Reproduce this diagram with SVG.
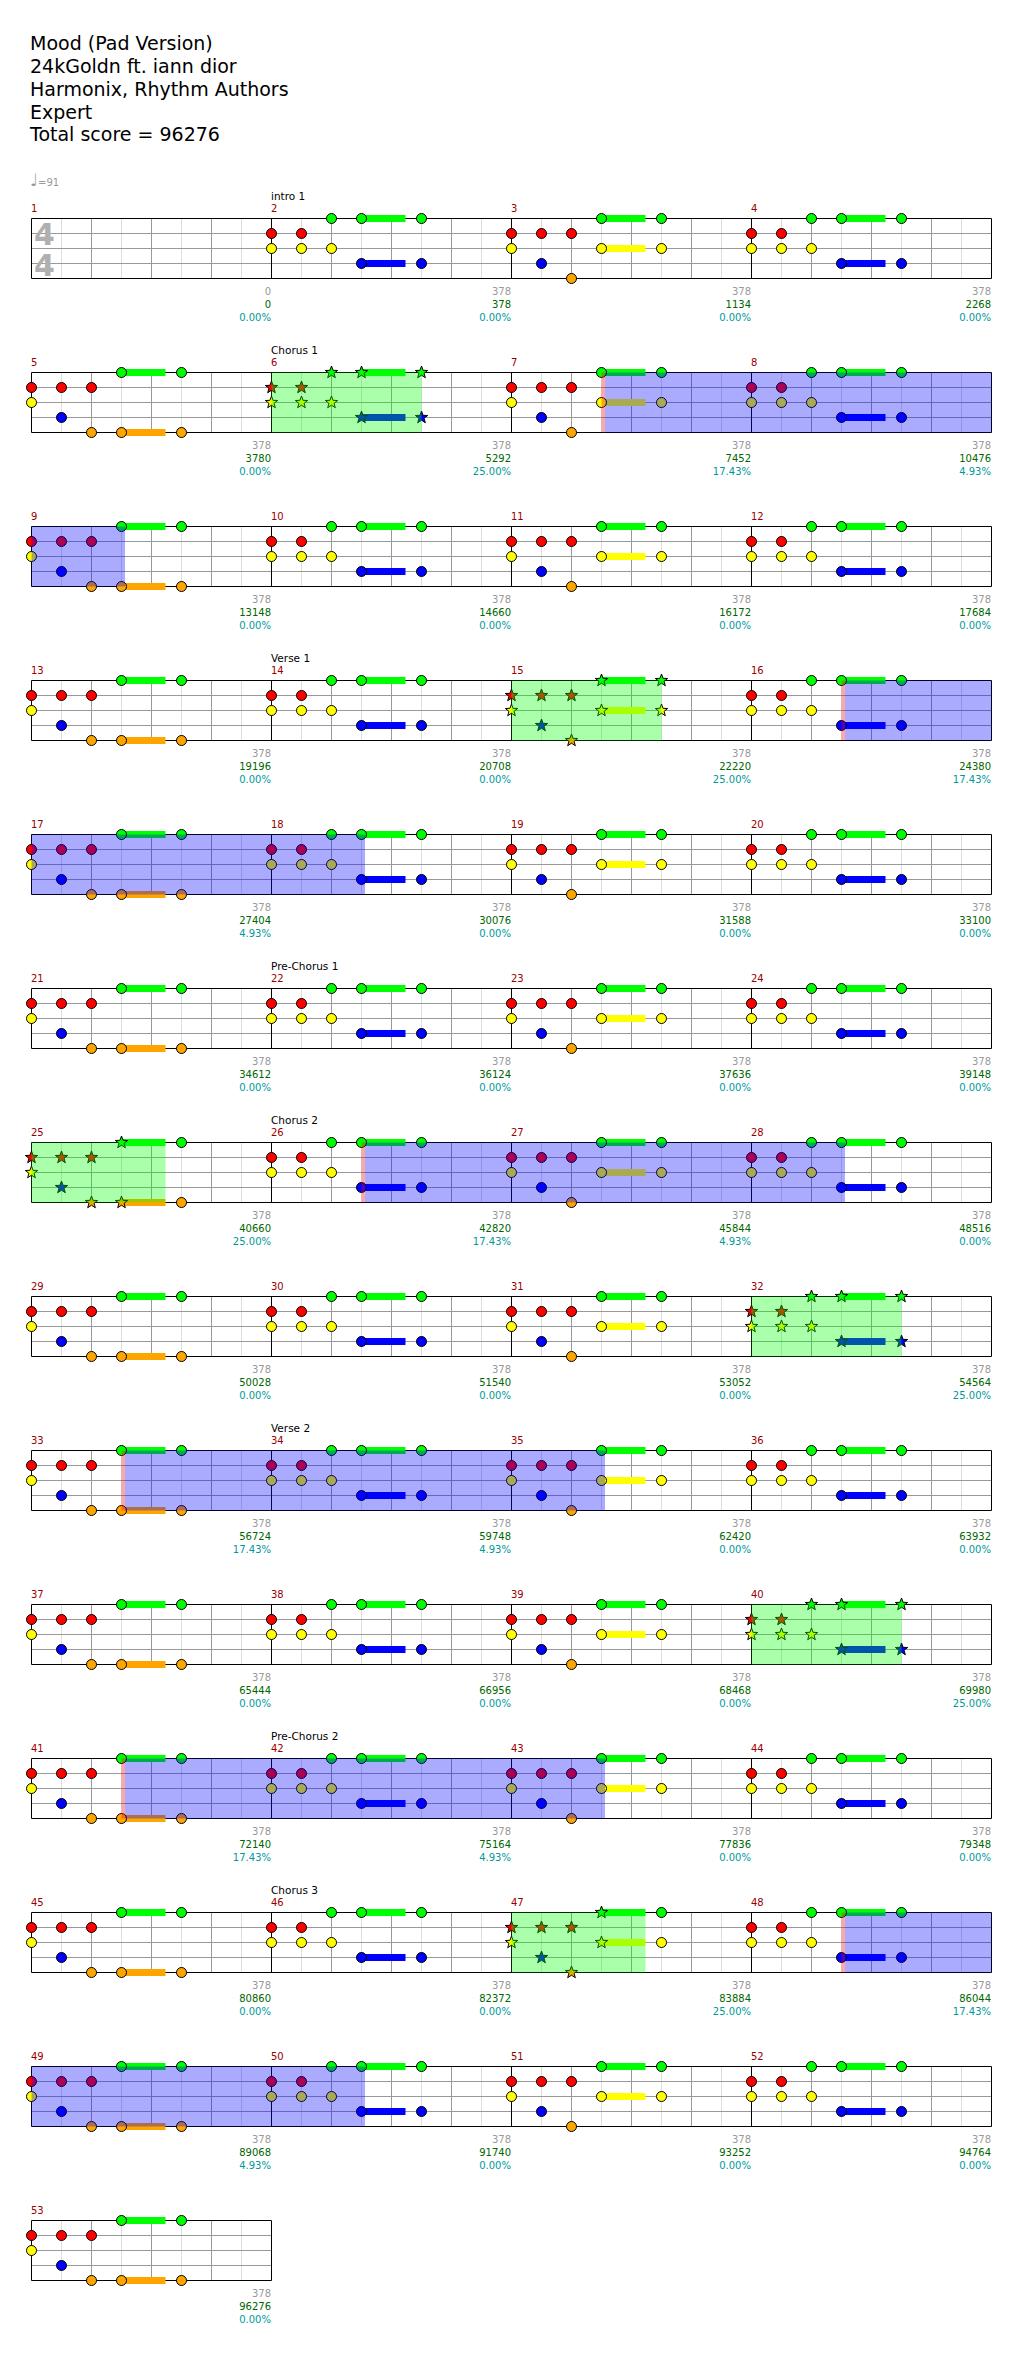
<svg xmlns="http://www.w3.org/2000/svg" xmlns:xlink="http://www.w3.org/1999/xlink" width="1024" height="2374" viewBox="0 0 1024 2374">
<style>
text{font-family:"DejaVu Sans",Verdana,sans-serif}
.t{font-size:19px;fill:#000}
.mn{font-size:10px;fill:#990000}
.sec{font-size:10.5px;fill:#000}
.l1{font-size:10px;fill:#999;text-anchor:end}
.l2{font-size:10px;fill:#006600;text-anchor:end}
.l3{font-size:10px;fill:#009999;text-anchor:end}
.ts{font-size:30px;font-weight:bold;fill:#b0b0b0;text-anchor:middle}
.lt{stroke:#dddddd;stroke-width:1;fill:none}
.dk{stroke:#999999;stroke-width:1;fill:none}
.bk{stroke:#000;stroke-width:1;fill:none}
.n{stroke:#000;stroke-width:1}
.G{fill:#00ff00}.R{fill:#ff0000}.Y{fill:#ffff00}.B{fill:#0000ff}.O{fill:#ffa500}
.ovg{fill:#00ff00;fill-opacity:0.333}
.ovb{fill:#0000ff;fill-opacity:0.333}
.act{fill:#ff0000;fill-opacity:0.35}
</style>
<defs>
<path id="st" d="M0,-6.5L1.59,-2.18L6.18,-2.01L2.57,0.83L3.82,5.26L0,2.7L-3.82,5.26L-2.57,0.83L-6.18,-2.01L-1.59,-2.18Z"/>
<g id="grid">
<path class="lt" d="M30,0V60M90,0V60M150,0V60M210,0V60"/>
<path class="dk" d="M0,15H240M0,30H240M0,45H240M60,0V60M120,0V60M180,0V60"/>
</g>
<path id="frame4" class="bk" d="M31.5,0H991.5M31.5,60H991.5M31.5,0V60M271.5,0V60M511.5,0V60M751.5,0V60M991.5,0V60"/>
<path id="frame1" class="bk" d="M31.5,0H271.5M31.5,60H271.5M31.5,0V60M271.5,0V60"/>
<g id="pA">
<rect class="G" x="90" y="-3.5" width="44" height="7"/>
<rect class="B" x="90" y="41.5" width="44" height="7"/>
<circle class="n R" cx="0" cy="15" r="5"/><circle class="n Y" cx="0" cy="30" r="5"/>
<circle class="n R" cx="30" cy="15" r="5"/><circle class="n Y" cx="30" cy="30" r="5"/>
<circle class="n G" cx="60" cy="0" r="5"/><circle class="n Y" cx="60" cy="30" r="5"/>
<circle class="n G" cx="90" cy="0" r="5"/><circle class="n B" cx="90" cy="45" r="5"/>
<circle class="n G" cx="150" cy="0" r="5"/><circle class="n B" cx="150" cy="45" r="5"/>
</g>
<g id="pB">
<rect class="G" x="90" y="-3.5" width="44" height="7"/>
<rect class="Y" x="90" y="26.5" width="44" height="7"/>
<circle class="n R" cx="0" cy="15" r="5"/><circle class="n Y" cx="0" cy="30" r="5"/>
<circle class="n R" cx="30" cy="15" r="5"/><circle class="n B" cx="30" cy="45" r="5"/>
<circle class="n R" cx="60" cy="15" r="5"/><circle class="n O" cx="60" cy="60" r="5"/>
<circle class="n G" cx="90" cy="0" r="5"/><circle class="n Y" cx="90" cy="30" r="5"/>
<circle class="n G" cx="150" cy="0" r="5"/><circle class="n Y" cx="150" cy="30" r="5"/>
</g>
<g id="pC">
<rect class="G" x="90" y="-3.5" width="44" height="7"/>
<rect class="O" x="90" y="56.5" width="44" height="7"/>
<circle class="n R" cx="0" cy="15" r="5"/><circle class="n Y" cx="0" cy="30" r="5"/>
<circle class="n R" cx="30" cy="15" r="5"/><circle class="n B" cx="30" cy="45" r="5"/>
<circle class="n R" cx="60" cy="15" r="5"/><circle class="n O" cx="60" cy="60" r="5"/>
<circle class="n G" cx="90" cy="0" r="5"/><circle class="n O" cx="90" cy="60" r="5"/>
<circle class="n G" cx="150" cy="0" r="5"/><circle class="n O" cx="150" cy="60" r="5"/>
</g>
<g id="pAs">
<rect class="G" x="90" y="-3.5" width="44" height="7"/>
<rect class="B" x="90" y="41.5" width="44" height="7"/>
<use xlink:href="#st" class="n R" x="0" y="15"/><use xlink:href="#st" class="n Y" x="0" y="30"/>
<use xlink:href="#st" class="n R" x="30" y="15"/><use xlink:href="#st" class="n Y" x="30" y="30"/>
<use xlink:href="#st" class="n G" x="60" y="0"/><use xlink:href="#st" class="n Y" x="60" y="30"/>
<use xlink:href="#st" class="n G" x="90" y="0"/><use xlink:href="#st" class="n B" x="90" y="45"/>
<use xlink:href="#st" class="n G" x="150" y="0"/><use xlink:href="#st" class="n B" x="150" y="45"/>
</g>
<g id="pBs">
<rect class="G" x="90" y="-3.5" width="44" height="7"/>
<rect class="Y" x="90" y="26.5" width="44" height="7"/>
<use xlink:href="#st" class="n R" x="0" y="15"/><use xlink:href="#st" class="n Y" x="0" y="30"/>
<use xlink:href="#st" class="n R" x="30" y="15"/><use xlink:href="#st" class="n B" x="30" y="45"/>
<use xlink:href="#st" class="n R" x="60" y="15"/><use xlink:href="#st" class="n O" x="60" y="60"/>
<use xlink:href="#st" class="n G" x="90" y="0"/><use xlink:href="#st" class="n Y" x="90" y="30"/>
<use xlink:href="#st" class="n G" x="150" y="0"/><use xlink:href="#st" class="n Y" x="150" y="30"/>
</g>
<g id="pBs4">
<rect class="G" x="90" y="-3.5" width="44" height="7"/>
<rect class="Y" x="90" y="26.5" width="44" height="7"/>
<use xlink:href="#st" class="n R" x="0" y="15"/><use xlink:href="#st" class="n Y" x="0" y="30"/>
<use xlink:href="#st" class="n R" x="30" y="15"/><use xlink:href="#st" class="n B" x="30" y="45"/>
<use xlink:href="#st" class="n R" x="60" y="15"/><use xlink:href="#st" class="n O" x="60" y="60"/>
<use xlink:href="#st" class="n G" x="90" y="0"/><use xlink:href="#st" class="n Y" x="90" y="30"/>
<circle class="n G" cx="150" cy="0" r="5"/><circle class="n Y" cx="150" cy="30" r="5"/>
</g>
<g id="pCs4">
<rect class="G" x="90" y="-3.5" width="44" height="7"/>
<rect class="O" x="90" y="56.5" width="44" height="7"/>
<use xlink:href="#st" class="n R" x="0" y="15"/><use xlink:href="#st" class="n Y" x="0" y="30"/>
<use xlink:href="#st" class="n R" x="30" y="15"/><use xlink:href="#st" class="n B" x="30" y="45"/>
<use xlink:href="#st" class="n R" x="60" y="15"/><use xlink:href="#st" class="n O" x="60" y="60"/>
<use xlink:href="#st" class="n G" x="90" y="0"/><use xlink:href="#st" class="n O" x="90" y="60"/>
<circle class="n G" cx="150" cy="0" r="5"/><circle class="n O" cx="150" cy="60" r="5"/>
</g>
<g id="g4"><use xlink:href="#grid" x="31.5"/><use xlink:href="#grid" x="271.5"/><use xlink:href="#grid" x="511.5"/><use xlink:href="#grid" x="751.5"/><use xlink:href="#frame4"/></g>
</defs>
<rect width="1024" height="2374" fill="#fff"/>
<g id="header">
<text class="t" x="30" y="49.5">Mood (Pad Version)</text>
<text class="t" x="30" y="72.5">24kGoldn ft. iann dior</text>
<text class="t" x="30" y="95.5">Harmonix, Rhythm Authors</text>
<text class="t" x="30" y="118.5">Expert</text>
<text class="t" x="30" y="141">Total score = 96276</text>
<text x="30" y="186" style="font-size:10px;fill:#999"><tspan style="font-size:17px">♩</tspan>=91</text>
</g>

<g id="row1" transform="translate(0,218.5)">
<use xlink:href="#g4"/>
<text class="ts" x="44.5" y="26.5">4</text><text class="ts" x="44.5" y="57.5">4</text>
<use xlink:href="#pA" x="271.5"/><use xlink:href="#pB" x="511.5"/><use xlink:href="#pA" x="751.5"/>
<text class="sec" x="271" y="-18.5">intro 1</text>
<text class="mn" x="31" y="-7">1</text><text class="mn" x="271" y="-7">2</text><text class="mn" x="511" y="-7">3</text><text class="mn" x="751" y="-7">4</text>
<text class="l1" x="271" y="76">0</text><text class="l2" x="271" y="89">0</text><text class="l3" x="271" y="102">0.00%</text>
<text class="l1" x="511" y="76">378</text><text class="l2" x="511" y="89">378</text><text class="l3" x="511" y="102">0.00%</text>
<text class="l1" x="751" y="76">378</text><text class="l2" x="751" y="89">1134</text><text class="l3" x="751" y="102">0.00%</text>
<text class="l1" x="991" y="76">378</text><text class="l2" x="991" y="89">2268</text><text class="l3" x="991" y="102">0.00%</text>
</g>

<g id="row2" transform="translate(0,372.5)">
<use xlink:href="#g4"/>
<use xlink:href="#pC" x="31.5"/><use xlink:href="#pAs" x="271.5"/><use xlink:href="#pB" x="511.5"/><use xlink:href="#pA" x="751.5"/>
<rect class="ovg" x="271.5" y="0" width="150" height="60"/>
<rect class="act" x="601.5" y="0" width="3.5" height="60"/>
<rect class="ovb" x="605" y="0" width="386.5" height="60"/>
<text class="sec" x="271" y="-18.5">Chorus 1</text>
<text class="mn" x="31" y="-7">5</text><text class="mn" x="271" y="-7">6</text><text class="mn" x="511" y="-7">7</text><text class="mn" x="751" y="-7">8</text>
<text class="l1" x="271" y="76">378</text><text class="l2" x="271" y="89">3780</text><text class="l3" x="271" y="102">0.00%</text>
<text class="l1" x="511" y="76">378</text><text class="l2" x="511" y="89">5292</text><text class="l3" x="511" y="102">25.00%</text>
<text class="l1" x="751" y="76">378</text><text class="l2" x="751" y="89">7452</text><text class="l3" x="751" y="102">17.43%</text>
<text class="l1" x="991" y="76">378</text><text class="l2" x="991" y="89">10476</text><text class="l3" x="991" y="102">4.93%</text>
</g>

<g id="row3" transform="translate(0,526.5)">
<use xlink:href="#g4"/>
<use xlink:href="#pC" x="31.5"/><use xlink:href="#pA" x="271.5"/><use xlink:href="#pB" x="511.5"/><use xlink:href="#pA" x="751.5"/>
<rect class="ovb" x="31.5" y="0" width="93.5" height="60"/>
<text class="mn" x="31" y="-7">9</text><text class="mn" x="271" y="-7">10</text><text class="mn" x="511" y="-7">11</text><text class="mn" x="751" y="-7">12</text>
<text class="l1" x="271" y="76">378</text><text class="l2" x="271" y="89">13148</text><text class="l3" x="271" y="102">0.00%</text>
<text class="l1" x="511" y="76">378</text><text class="l2" x="511" y="89">14660</text><text class="l3" x="511" y="102">0.00%</text>
<text class="l1" x="751" y="76">378</text><text class="l2" x="751" y="89">16172</text><text class="l3" x="751" y="102">0.00%</text>
<text class="l1" x="991" y="76">378</text><text class="l2" x="991" y="89">17684</text><text class="l3" x="991" y="102">0.00%</text>
</g>

<g id="row4" transform="translate(0,680.5)">
<use xlink:href="#g4"/>
<use xlink:href="#pC" x="31.5"/><use xlink:href="#pA" x="271.5"/><use xlink:href="#pBs" x="511.5"/><use xlink:href="#pA" x="751.5"/>
<rect class="ovg" x="511.5" y="0" width="150" height="60"/>
<rect class="act" x="841.5" y="0" width="3.5" height="60"/>
<rect class="ovb" x="845" y="0" width="146.5" height="60"/>
<text class="sec" x="271" y="-18.5">Verse 1</text>
<text class="mn" x="31" y="-7">13</text><text class="mn" x="271" y="-7">14</text><text class="mn" x="511" y="-7">15</text><text class="mn" x="751" y="-7">16</text>
<text class="l1" x="271" y="76">378</text><text class="l2" x="271" y="89">19196</text><text class="l3" x="271" y="102">0.00%</text>
<text class="l1" x="511" y="76">378</text><text class="l2" x="511" y="89">20708</text><text class="l3" x="511" y="102">0.00%</text>
<text class="l1" x="751" y="76">378</text><text class="l2" x="751" y="89">22220</text><text class="l3" x="751" y="102">25.00%</text>
<text class="l1" x="991" y="76">378</text><text class="l2" x="991" y="89">24380</text><text class="l3" x="991" y="102">17.43%</text>
</g>

<g id="row5" transform="translate(0,834.5)">
<use xlink:href="#g4"/>
<use xlink:href="#pC" x="31.5"/><use xlink:href="#pA" x="271.5"/><use xlink:href="#pB" x="511.5"/><use xlink:href="#pA" x="751.5"/>
<rect class="ovb" x="31.5" y="0" width="333.5" height="60"/>
<text class="mn" x="31" y="-7">17</text><text class="mn" x="271" y="-7">18</text><text class="mn" x="511" y="-7">19</text><text class="mn" x="751" y="-7">20</text>
<text class="l1" x="271" y="76">378</text><text class="l2" x="271" y="89">27404</text><text class="l3" x="271" y="102">4.93%</text>
<text class="l1" x="511" y="76">378</text><text class="l2" x="511" y="89">30076</text><text class="l3" x="511" y="102">0.00%</text>
<text class="l1" x="751" y="76">378</text><text class="l2" x="751" y="89">31588</text><text class="l3" x="751" y="102">0.00%</text>
<text class="l1" x="991" y="76">378</text><text class="l2" x="991" y="89">33100</text><text class="l3" x="991" y="102">0.00%</text>
</g>

<g id="row6" transform="translate(0,988.5)">
<use xlink:href="#g4"/>
<use xlink:href="#pC" x="31.5"/><use xlink:href="#pA" x="271.5"/><use xlink:href="#pB" x="511.5"/><use xlink:href="#pA" x="751.5"/>
<text class="sec" x="271" y="-18.5">Pre-Chorus 1</text>
<text class="mn" x="31" y="-7">21</text><text class="mn" x="271" y="-7">22</text><text class="mn" x="511" y="-7">23</text><text class="mn" x="751" y="-7">24</text>
<text class="l1" x="271" y="76">378</text><text class="l2" x="271" y="89">34612</text><text class="l3" x="271" y="102">0.00%</text>
<text class="l1" x="511" y="76">378</text><text class="l2" x="511" y="89">36124</text><text class="l3" x="511" y="102">0.00%</text>
<text class="l1" x="751" y="76">378</text><text class="l2" x="751" y="89">37636</text><text class="l3" x="751" y="102">0.00%</text>
<text class="l1" x="991" y="76">378</text><text class="l2" x="991" y="89">39148</text><text class="l3" x="991" y="102">0.00%</text>
</g>

<g id="row7" transform="translate(0,1142.5)">
<use xlink:href="#g4"/>
<use xlink:href="#pCs4" x="31.5"/><use xlink:href="#pA" x="271.5"/><use xlink:href="#pB" x="511.5"/><use xlink:href="#pA" x="751.5"/>
<rect class="ovg" x="31.5" y="0" width="134" height="60"/>
<rect class="act" x="361.5" y="0" width="3.5" height="60"/>
<rect class="ovb" x="365" y="0" width="480" height="60"/>
<text class="sec" x="271" y="-18.5">Chorus 2</text>
<text class="mn" x="31" y="-7">25</text><text class="mn" x="271" y="-7">26</text><text class="mn" x="511" y="-7">27</text><text class="mn" x="751" y="-7">28</text>
<text class="l1" x="271" y="76">378</text><text class="l2" x="271" y="89">40660</text><text class="l3" x="271" y="102">25.00%</text>
<text class="l1" x="511" y="76">378</text><text class="l2" x="511" y="89">42820</text><text class="l3" x="511" y="102">17.43%</text>
<text class="l1" x="751" y="76">378</text><text class="l2" x="751" y="89">45844</text><text class="l3" x="751" y="102">4.93%</text>
<text class="l1" x="991" y="76">378</text><text class="l2" x="991" y="89">48516</text><text class="l3" x="991" y="102">0.00%</text>
</g>

<g id="row8" transform="translate(0,1296.5)">
<use xlink:href="#g4"/>
<use xlink:href="#pC" x="31.5"/><use xlink:href="#pA" x="271.5"/><use xlink:href="#pB" x="511.5"/><use xlink:href="#pAs" x="751.5"/>
<rect class="ovg" x="751.5" y="0" width="150" height="60"/>
<text class="mn" x="31" y="-7">29</text><text class="mn" x="271" y="-7">30</text><text class="mn" x="511" y="-7">31</text><text class="mn" x="751" y="-7">32</text>
<text class="l1" x="271" y="76">378</text><text class="l2" x="271" y="89">50028</text><text class="l3" x="271" y="102">0.00%</text>
<text class="l1" x="511" y="76">378</text><text class="l2" x="511" y="89">51540</text><text class="l3" x="511" y="102">0.00%</text>
<text class="l1" x="751" y="76">378</text><text class="l2" x="751" y="89">53052</text><text class="l3" x="751" y="102">0.00%</text>
<text class="l1" x="991" y="76">378</text><text class="l2" x="991" y="89">54564</text><text class="l3" x="991" y="102">25.00%</text>
</g>

<g id="row9" transform="translate(0,1450.5)">
<use xlink:href="#g4"/>
<use xlink:href="#pC" x="31.5"/><use xlink:href="#pA" x="271.5"/><use xlink:href="#pB" x="511.5"/><use xlink:href="#pA" x="751.5"/>
<rect class="act" x="121.5" y="0" width="3.5" height="60"/>
<rect class="ovb" x="125" y="0" width="480" height="60"/>
<text class="sec" x="271" y="-18.5">Verse 2</text>
<text class="mn" x="31" y="-7">33</text><text class="mn" x="271" y="-7">34</text><text class="mn" x="511" y="-7">35</text><text class="mn" x="751" y="-7">36</text>
<text class="l1" x="271" y="76">378</text><text class="l2" x="271" y="89">56724</text><text class="l3" x="271" y="102">17.43%</text>
<text class="l1" x="511" y="76">378</text><text class="l2" x="511" y="89">59748</text><text class="l3" x="511" y="102">4.93%</text>
<text class="l1" x="751" y="76">378</text><text class="l2" x="751" y="89">62420</text><text class="l3" x="751" y="102">0.00%</text>
<text class="l1" x="991" y="76">378</text><text class="l2" x="991" y="89">63932</text><text class="l3" x="991" y="102">0.00%</text>
</g>

<g id="row10" transform="translate(0,1604.5)">
<use xlink:href="#g4"/>
<use xlink:href="#pC" x="31.5"/><use xlink:href="#pA" x="271.5"/><use xlink:href="#pB" x="511.5"/><use xlink:href="#pAs" x="751.5"/>
<rect class="ovg" x="751.5" y="0" width="150" height="60"/>
<text class="mn" x="31" y="-7">37</text><text class="mn" x="271" y="-7">38</text><text class="mn" x="511" y="-7">39</text><text class="mn" x="751" y="-7">40</text>
<text class="l1" x="271" y="76">378</text><text class="l2" x="271" y="89">65444</text><text class="l3" x="271" y="102">0.00%</text>
<text class="l1" x="511" y="76">378</text><text class="l2" x="511" y="89">66956</text><text class="l3" x="511" y="102">0.00%</text>
<text class="l1" x="751" y="76">378</text><text class="l2" x="751" y="89">68468</text><text class="l3" x="751" y="102">0.00%</text>
<text class="l1" x="991" y="76">378</text><text class="l2" x="991" y="89">69980</text><text class="l3" x="991" y="102">25.00%</text>
</g>

<g id="row11" transform="translate(0,1758.5)">
<use xlink:href="#g4"/>
<use xlink:href="#pC" x="31.5"/><use xlink:href="#pA" x="271.5"/><use xlink:href="#pB" x="511.5"/><use xlink:href="#pA" x="751.5"/>
<rect class="act" x="121.5" y="0" width="3.5" height="60"/>
<rect class="ovb" x="125" y="0" width="480" height="60"/>
<text class="sec" x="271" y="-18.5">Pre-Chorus 2</text>
<text class="mn" x="31" y="-7">41</text><text class="mn" x="271" y="-7">42</text><text class="mn" x="511" y="-7">43</text><text class="mn" x="751" y="-7">44</text>
<text class="l1" x="271" y="76">378</text><text class="l2" x="271" y="89">72140</text><text class="l3" x="271" y="102">17.43%</text>
<text class="l1" x="511" y="76">378</text><text class="l2" x="511" y="89">75164</text><text class="l3" x="511" y="102">4.93%</text>
<text class="l1" x="751" y="76">378</text><text class="l2" x="751" y="89">77836</text><text class="l3" x="751" y="102">0.00%</text>
<text class="l1" x="991" y="76">378</text><text class="l2" x="991" y="89">79348</text><text class="l3" x="991" y="102">0.00%</text>
</g>

<g id="row12" transform="translate(0,1912.5)">
<use xlink:href="#g4"/>
<use xlink:href="#pC" x="31.5"/><use xlink:href="#pA" x="271.5"/><use xlink:href="#pBs4" x="511.5"/><use xlink:href="#pA" x="751.5"/>
<rect class="ovg" x="511.5" y="0" width="134" height="60"/>
<rect class="act" x="841.5" y="0" width="3.5" height="60"/>
<rect class="ovb" x="845" y="0" width="146.5" height="60"/>
<text class="sec" x="271" y="-18.5">Chorus 3</text>
<text class="mn" x="31" y="-7">45</text><text class="mn" x="271" y="-7">46</text><text class="mn" x="511" y="-7">47</text><text class="mn" x="751" y="-7">48</text>
<text class="l1" x="271" y="76">378</text><text class="l2" x="271" y="89">80860</text><text class="l3" x="271" y="102">0.00%</text>
<text class="l1" x="511" y="76">378</text><text class="l2" x="511" y="89">82372</text><text class="l3" x="511" y="102">0.00%</text>
<text class="l1" x="751" y="76">378</text><text class="l2" x="751" y="89">83884</text><text class="l3" x="751" y="102">25.00%</text>
<text class="l1" x="991" y="76">378</text><text class="l2" x="991" y="89">86044</text><text class="l3" x="991" y="102">17.43%</text>
</g>

<g id="row13" transform="translate(0,2066.5)">
<use xlink:href="#g4"/>
<use xlink:href="#pC" x="31.5"/><use xlink:href="#pA" x="271.5"/><use xlink:href="#pB" x="511.5"/><use xlink:href="#pA" x="751.5"/>
<rect class="ovb" x="31.5" y="0" width="333.5" height="60"/>
<text class="mn" x="31" y="-7">49</text><text class="mn" x="271" y="-7">50</text><text class="mn" x="511" y="-7">51</text><text class="mn" x="751" y="-7">52</text>
<text class="l1" x="271" y="76">378</text><text class="l2" x="271" y="89">89068</text><text class="l3" x="271" y="102">4.93%</text>
<text class="l1" x="511" y="76">378</text><text class="l2" x="511" y="89">91740</text><text class="l3" x="511" y="102">0.00%</text>
<text class="l1" x="751" y="76">378</text><text class="l2" x="751" y="89">93252</text><text class="l3" x="751" y="102">0.00%</text>
<text class="l1" x="991" y="76">378</text><text class="l2" x="991" y="89">94764</text><text class="l3" x="991" y="102">0.00%</text>
</g>

<g id="row14" transform="translate(0,2220.5)">
<use xlink:href="#grid" x="31.5"/><use xlink:href="#frame1"/>
<use xlink:href="#pC" x="31.5"/>
<text class="mn" x="31" y="-7">53</text>
<text class="l1" x="271" y="76">378</text><text class="l2" x="271" y="89">96276</text><text class="l3" x="271" y="102">0.00%</text>
</g>
</svg>
